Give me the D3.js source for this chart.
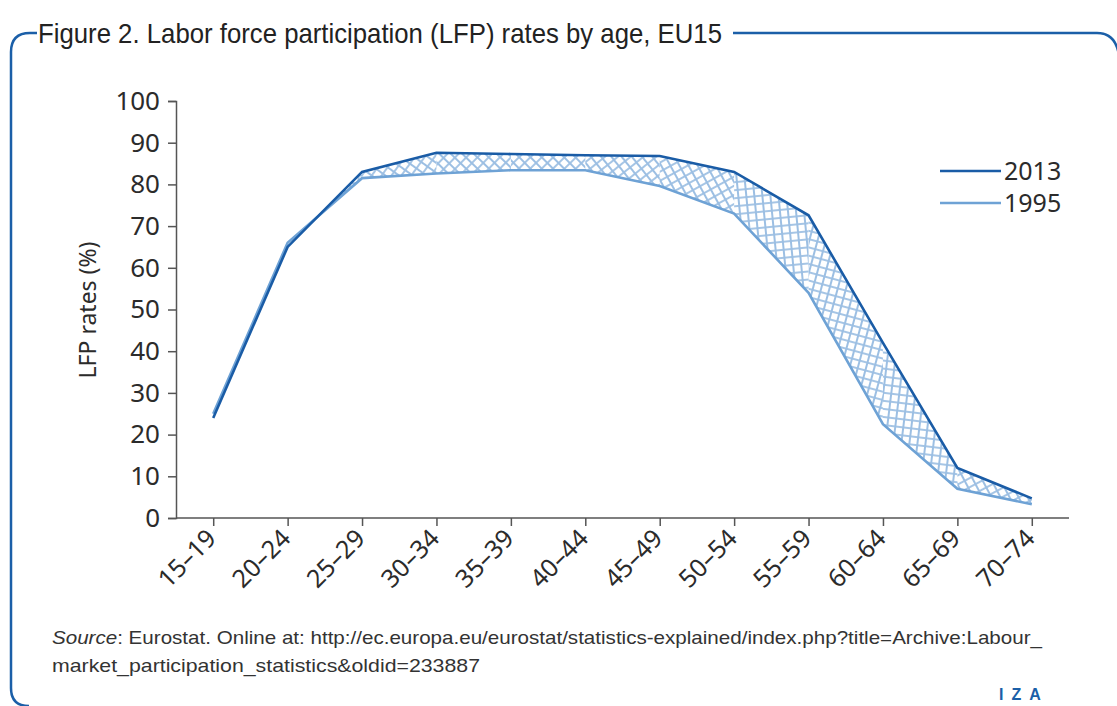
<!DOCTYPE html>
<html>
<head>
<meta charset="utf-8">
<script src="https://cdn.jsdelivr.net/npm/d3@7"></script>
<style>
  body { margin: 0; background: #fff; }
  svg { display: block; }
</style>
</head>
<body>
<svg id="chart"></svg>
<script>
// Data =======================================================================

const ages = ["15–19", "20–24", "25–29", "30–34", "35–39", "40–44",
  "45–49", "50–54", "55–59", "60–64", "65–69", "70–74"];
const lfp2013 = [24, 65, 83, 87.6, 87.3, 87, 86.8, 83, 72.6, 42, 12, 4.7];
const lfp1995 = [25, 66, 81.5, 82.6, 83.4, 83.4, 79.6, 73, 54, 22.5, 7, 3.3];
const yTicks = [0, 10, 20, 30, 40, 50, 60, 70, 80, 90, 100];
const seriesNames = ["2013", "1995"];

// Setup ======================================================================

const width = 1117,
  height = 706;
const blue = "#1a5ca6",
  lightBlue = "#6ea2d5",
  hatch = "#9cbfe3",
  frame = "#1b5fa8";

const svg = d3.select("#chart")
  .attr("width", width)
  .attr("height", height);

const x = d3.scalePoint()
  .domain(ages)
  .range([176, 1069])
  .padding(0.5);

const y = d3.scaleLinear()
  .domain([0, 100])
  .range([518, 101]);

// Frame & title ==============================================================

svg.append("path")
  .attr("d", "M37,33 H30 Q11,33 11,52 V688 Q11,706 29,706")
  .attr("fill", "none")
  .attr("stroke", frame)
  .attr("stroke-width", 2.5);

svg.append("path")
  .attr("d", "M733,33 H1097 Q1116,33 1119,56")
  .attr("fill", "none")
  .attr("stroke", frame)
  .attr("stroke-width", 2.5);

svg.append("text")
  .attr("x", 38)
  .attr("y", 43)
  .attr("font-family", "'Liberation Sans Narrow', 'Liberation Sans', sans-serif")
  .attr("font-size", 28)
  .attr("fill", "#222")
  .attr("textLength", 684)
  .attr("lengthAdjust", "spacingAndGlyphs")
  .text("Figure 2. Labor force participation (LFP) rates by age, EU15");

// Hatched band between the two years ========================================

const defs = svg.append("defs");
const segs = d3.range(ages.length - 1).map(i => {
  const x0 = x(ages[i]), x1 = x(ages[i + 1]);
  const dy = ((y(lfp2013[i + 1]) + y(lfp1995[i + 1])) - (y(lfp2013[i]) + y(lfp1995[i]))) / 2;
  const angle = Math.atan2(dy, x1 - x0) * 180 / Math.PI;
  return { i, angle };
});

segs.forEach(s => {
  const p = defs.append("pattern")
    .attr("id", "hatch" + s.i)
    .attr("patternUnits", "userSpaceOnUse")
    .attr("width", 8)
    .attr("height", 8)
    .attr("patternTransform", `rotate(${45 + s.angle})`);
  p.append("path")
    .attr("d", "M0,4 H8 M4,0 V8")
    .attr("stroke", hatch)
    .attr("stroke-width", 1.8);
});

svg.selectAll(".band")
  .data(segs)
  .enter()
  .append("path")
  .attr("class", "band")
  .attr("d", s => {
    const a = ages[s.i], b = ages[s.i + 1];
    return `M${x(a)},${y(lfp2013[s.i])} L${x(b)},${y(lfp2013[s.i + 1])}` +
      ` L${x(b)},${y(lfp1995[s.i + 1])} L${x(a)},${y(lfp1995[s.i])} Z`;
  })
  .attr("fill", s => `url(#hatch${s.i})`)
  .attr("stroke", "none");

// Axes =======================================================================

const yAxis = svg.append("g")
  .attr("transform", "translate(176,0)")
  .call(d3.axisLeft(y).tickValues(yTicks).tickSize(8).tickPadding(8));

const xAxis = svg.append("g")
  .attr("transform", "translate(0,518)")
  .call(d3.axisBottom(x).tickSize(8).tickSizeOuter(0));

xAxis.select(".domain").attr("d", "M176,0 H1069");

[yAxis, xAxis].forEach(g => {
  g.select(".domain").attr("stroke", "#555").attr("stroke-width", 1.5);
  g.selectAll(".tick line").attr("stroke", "#555").attr("stroke-width", 1.5);
  g.selectAll(".tick text")
    .attr("fill", "#2b2b2b")
    .attr("font-family", "'Noto Sans', sans-serif");
});

yAxis.selectAll(".tick text").attr("font-size", 26);

xAxis.selectAll(".tick text")
  .attr("font-size", 25)
  .attr("text-anchor", "end")
  .attr("x", 0)
  .attr("y", 0)
  .attr("dy", 0)
  .attr("transform", "translate(4,22) rotate(-45)");

svg.append("text")
  .attr("transform", "translate(96,310) rotate(-90)")
  .attr("text-anchor", "middle")
  .attr("font-family", "'Noto Sans', sans-serif")
  .attr("font-size", 23)
  .attr("fill", "#2b2b2b")
  .text("LFP rates (%)");

// Lines ======================================================================

const line = vals => d3.line()
  .x((d, i) => x(ages[i]))
  .y(d => y(d))(vals);

svg.append("path")
  .attr("d", line(lfp1995))
  .attr("fill", "none")
  .attr("stroke", lightBlue)
  .attr("stroke-width", 2.6);

svg.append("path")
  .attr("d", line(lfp2013))
  .attr("fill", "none")
  .attr("stroke", blue)
  .attr("stroke-width", 2.6);

// Legend =====================================================================

const legend = svg.selectAll(".legend")
  .data(seriesNames)
  .enter()
  .append("g")
  .attr("class", "legend")
  .attr("transform", (d, i) => `translate(940,${171 + i * 32})`);

legend.append("line")
  .attr("x1", 0).attr("x2", 61)
  .attr("stroke", (d, i) => i === 0 ? blue : lightBlue)
  .attr("stroke-width", 2.6);

legend.append("text")
  .attr("x", 64)
  .attr("y", 9)
  .attr("font-family", "'Noto Sans', sans-serif")
  .attr("font-size", 25)
  .attr("fill", "#2b2b2b")
  .text(d => d);

// Source note ================================================================

const src = svg.append("text")
  .attr("x", 52)
  .attr("y", 644)
  .attr("font-family", "'Liberation Sans Narrow', 'Liberation Sans', sans-serif")
  .attr("font-size", 19)
  .attr("fill", "#333")
  .attr("textLength", 990)
  .attr("lengthAdjust", "spacingAndGlyphs");
src.append("tspan").attr("font-style", "italic").text("Source");
src.append("tspan").text(": Eurostat. Online at: http://ec.europa.eu/eurostat/statistics-explained/index.php?title=Archive:Labour_");

svg.append("text")
  .attr("x", 52)
  .attr("y", 672)
  .attr("font-family", "'Liberation Sans Narrow', 'Liberation Sans', sans-serif")
  .attr("font-size", 19)
  .attr("fill", "#333")
  .attr("textLength", 428)
  .attr("lengthAdjust", "spacingAndGlyphs")
  .text("market_participation_statistics&oldid=233887");

svg.append("text")
  .attr("x", 999)
  .attr("y", 700)
  .attr("font-family", "'Liberation Sans', sans-serif")
  .attr("font-weight", "bold")
  .attr("font-size", 16)
  .attr("letter-spacing", 8)
  .attr("fill", frame)
  .text("IZA");
</script>
</body>
</html>
